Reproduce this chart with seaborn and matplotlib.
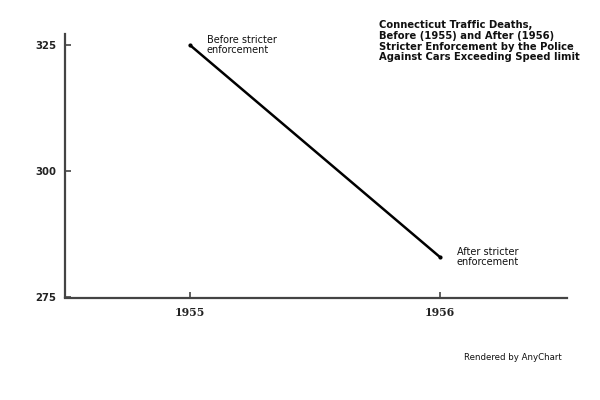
import matplotlib
matplotlib.use("Agg")
import matplotlib.pyplot as plt
import seaborn as sns
import pandas as pd

years = ["1955", "1956"]
deaths = [325, 283]
point_labels = ["Before stricter\nenforcement", "After stricter\nenforcement"]
yticks = [275, 300, 325]
title = ("Connecticut Traffic Deaths,\nBefore (1955) and After (1956)\n"
         "Stricter Enforcement by the Police\nAgainst Cars Exceeding Speed limit")

sns.set_theme(style="white")
plt.rcParams['font.family'] = ['DejaVu Sans']

df = pd.DataFrame({"year": years, "deaths": deaths})

fig = plt.figure(figsize=(6, 4), dpi=100)
ax = fig.add_axes([65/600, 1-297.5/400, (567-65)/600, (297.5-34)/400])

sns.lineplot(data=df, x="year", y="deaths", ax=ax, color="black", linewidth=1.8,
             marker="o", markersize=3, markeredgewidth=0, sort=False)

ax.set_xlim(-0.5, 1.508)
ax.set_ylim(275, 327.2)
ax.set_yticks(yticks)
ax.set_yticklabels([str(v) for v in yticks], fontsize=7.3, fontweight="bold", color="#222222")
ax.set_xticks(range(len(years)))
ax.set_xticklabels(years, fontsize=7.8, fontweight="bold", family="DejaVu Serif", color="#222222")
ax.set_xlabel("")
ax.set_ylabel("")

for s in ["top", "right"]:
    ax.spines[s].set_visible(False)
for s in ["left", "bottom"]:
    ax.spines[s].set_color("#444444")
    ax.spines[s].set_linewidth(1.6)
ax.tick_params(axis="both", which="major", direction="in", length=4, width=1.2,
               color="#444444", bottom=True, left=True)
ax.tick_params(axis="y", pad=6)
ax.tick_params(axis="x", pad=7)

for i, (lab, v) in enumerate(zip(point_labels, deaths)):
    ax.annotate(lab, xy=(i, v), xytext=(12, 0), textcoords="offset points",
                fontsize=7, va="center", ha="left", color="#111111", linespacing=1.0)

fig.text(379/600, 1-20/400, title, fontsize=7.2, fontweight="bold", va="top", ha="left",
         linespacing=1.1, color="#111111")
fig.text(562/600, 1-357/400, "Rendered by AnyChart", fontsize=6.2, ha="right", va="center",
         color="#111111")

fig.savefig("out.png", dpi=100)
